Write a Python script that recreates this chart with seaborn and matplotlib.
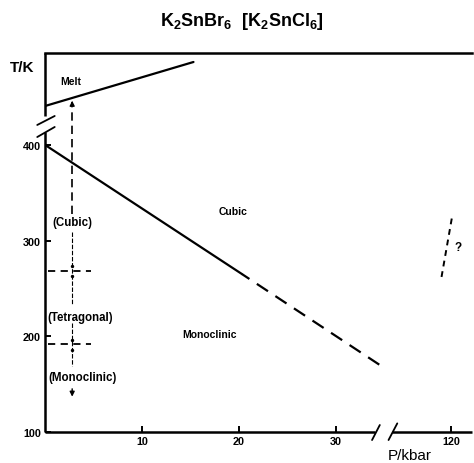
import matplotlib
matplotlib.use('Agg')
import matplotlib.pyplot as plt
import seaborn as sns

# ---- data (P in kbar, T in K) ----
melt_p = [0.0, 15.3]
melt_t = [440.6, 486.6]
cub_mono_p = [0.0, 20.3]
cub_mono_t = [400.0, 265.0]
cub_mono_ext_p = [20.3, 34.8]
cub_mono_ext_t = [265.0, 168.0]
hp_p = [119.0, 120.1]
hp_t = [262.0, 325.7]
amb_p = 2.8
trans_t = [268.0, 192.0]
err_t = [273.5, 263.0, 196.0, 186.0]
x_tick_vals = [10, 20, 30, 120]
x_tick_labels = ['10', '20', '30', '120']
y_tick_vals = [100, 200, 300, 400]
y_tick_labels = ['100', '200', '300', '400']

BREAK_LO, BREAK_HI_DISP, HI_REF = 36.0, 41.86, 120.0


def disp(p):
    return p if p <= BREAK_LO else p - HI_REF + BREAK_HI_DISP


sns.set_style('white')
plt.rcParams['font.family'] = ['Liberation Sans', 'DejaVu Sans']
plt.rcParams['font.weight'] = 'bold'
plt.rcParams['mathtext.default'] = 'regular'
plt.rcParams['text.color'] = 'black'
plt.rcParams['xtick.color'] = 'black'
plt.rcParams['ytick.color'] = 'black'

fig = plt.figure(figsize=(4.74, 4.64), dpi=100)
ax = fig.add_axes([45 / 474, 31 / 464, 427 / 474, 379 / 464])
ax.set_xlim(0, 44.0)
ax.set_ylim(100, 496)

lw = 1.6
k = 'black'
sns.lineplot(x=melt_p, y=melt_t, ax=ax, color=k, lw=lw, estimator=None, sort=False)
sns.lineplot(x=cub_mono_p, y=cub_mono_t, ax=ax, color=k, lw=lw, estimator=None, sort=False)
sns.lineplot(x=cub_mono_ext_p, y=cub_mono_ext_t, ax=ax, color=k, lw=lw,
             linestyle=(2, (6, 4)), estimator=None, sort=False)
sns.lineplot(x=[disp(p) for p in hp_p], y=hp_t, ax=ax, color=k, lw=1.4,
             linestyle=(0, (3, 2.5)), estimator=None, sort=False)

# vertical path at ambient pressure
sns.lineplot(x=[amb_p, amb_p], y=[328, 444], ax=ax, color=k, lw=1.2,
             linestyle=(0, (5, 3)), estimator=None, sort=False)
ax.annotate('', xy=(amb_p, 449), xytext=(amb_p, 440),
            arrowprops=dict(arrowstyle='-|>', color=k, lw=1.0, mutation_scale=7))
sns.lineplot(x=[amb_p, amb_p], y=[309, 234], ax=ax, color=k, lw=0.8,
             linestyle=(0, (4, 1.5)), estimator=None, sort=False)
sns.lineplot(x=[amb_p, amb_p], y=[214, 169], ax=ax, color=k, lw=0.8,
             linestyle=(0, (4, 1.5)), estimator=None, sort=False)
ax.annotate('', xy=(amb_p, 134), xytext=(amb_p, 148),
            arrowprops=dict(arrowstyle='-|>', color=k, lw=1.0, mutation_scale=7))
for t in trans_t:
    sns.lineplot(x=[0.3, 4.7], y=[t, t], ax=ax, color=k, lw=1.3,
                 linestyle=(0, (4, 3)), estimator=None, sort=False)
sns.scatterplot(x=[amb_p] * len(err_t), y=err_t, ax=ax, color=k, s=6,
                linewidth=0, zorder=5)

# labels
fs = 7.5
fsp = 8.3
ax.text(1.55, 466.8, 'Melt', fontsize=fs, ha='left', va='center')
ax.text(19.4, 331, 'Cubic', fontsize=fs, ha='center', va='center')
ax.text(16.9, 202.4, 'Monoclinic', fontsize=fs, ha='center', va='center')
ax.text(0.8, 319.4, '(Cubic)', fontsize=fsp, ha='left', va='center')
ax.text(0.2, 220, '(Tetragonal)', fontsize=fsp, ha='left', va='center')
ax.text(0.3, 157.5, '(Monoclinic)', fontsize=fsp, ha='left', va='center')
ax.text(42.6, 293, '?', fontsize=8.5, ha='center', va='center')

# axes: custom broken spines
for s in ['left', 'bottom', 'right']:
    ax.spines[s].set_visible(False)
ax.spines['top'].set_linewidth(1.8)
ax.spines['top'].set_color(k)
slw = 1.8
ax.plot([0, 0], [100, 413], color=k, lw=slw, clip_on=False, solid_capstyle='butt')
ax.plot([0, 0], [430, 496], color=k, lw=slw, clip_on=False, solid_capstyle='butt')
ax.plot([-0.8, 1.0], [420.8, 430.2], color=k, lw=1.3, clip_on=False)
ax.plot([-0.8, 1.0], [408.2, 418.7], color=k, lw=1.3, clip_on=False)
ax.plot([0, 34.0], [100, 100], color=k, lw=slw, clip_on=False, solid_capstyle='butt')
ax.plot([35.8, 44.0], [100, 100], color=k, lw=slw, clip_on=False, solid_capstyle='butt')
ax.plot([33.7, 34.5], [91.6, 107.3], color=k, lw=1.3, clip_on=False)
ax.plot([35.4, 36.3], [91.6, 109.0], color=k, lw=1.3, clip_on=False)

ax.set_xticks([disp(p) for p in x_tick_vals])
ax.set_xticklabels(x_tick_labels)
ax.set_yticks(y_tick_vals)
ax.set_yticklabels(y_tick_labels)
ax.tick_params(axis='both', direction='in', length=4, width=1.4, labelsize=7.8,
               pad=3, colors=k, bottom=True, left=True)
ax.set_xlabel('')
ax.set_ylabel('')

fig.text(22 / 474, 1 - 68 / 464, 'T/K', fontsize=11, ha='center', va='center')
fig.text(410 / 474, 1 - 456 / 464, 'P/kbar', fontsize=11, ha='center', va='center',
         fontweight='normal')
fig.text(242 / 474, 1 - 22 / 464, r'K$_2$SnBr$_6$  [K$_2$SnCl$_6$]', fontsize=13,
         ha='center', va='center')

fig.savefig('out.png', dpi=100, facecolor='white')
